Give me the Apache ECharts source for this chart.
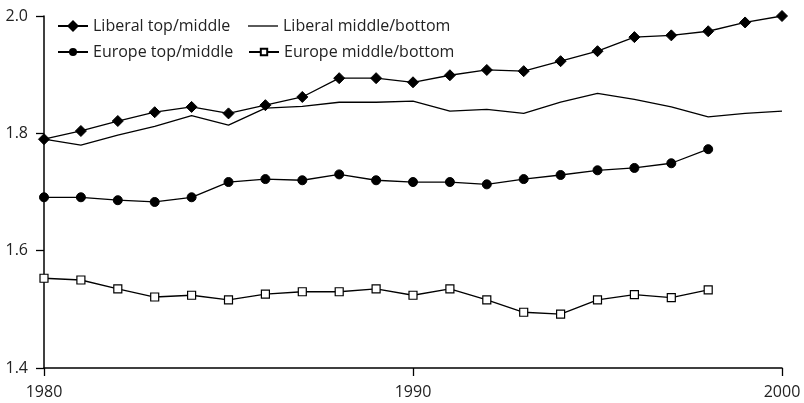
<!DOCTYPE html>
<html>
<head>
<meta charset="utf-8">
<script src="https://cdn.jsdelivr.net/npm/echarts@6/dist/echarts.min.js"></script>
<style>
html,body{margin:0;padding:0;background:#fff;}
#c{width:804px;height:403px;}
</style>
</head>
<body>
<div id="c"></div>
<script>
const years = [1980,1981,1982,1983,1984,1985,1986,1987,1988,1989,1990,1991,1992,1993,1994,1995,1996,1997,1998,1999,2000];
const liberalTopMiddle = [1.790,1.804,1.821,1.836,1.845,1.834,1.848,1.862,1.894,1.894,1.887,1.899,1.908,1.906,1.923,1.940,1.964,1.967,1.974,1.989,2.000];
const liberalMiddleBottom = [1.790,1.780,1.797,1.812,1.830,1.814,1.843,1.846,1.853,1.853,1.855,1.838,1.841,1.834,1.853,1.868,1.858,1.845,1.828,1.834,1.838];
const europeTopMiddle = [1.691,1.691,1.686,1.683,1.691,1.717,1.722,1.720,1.730,1.720,1.717,1.717,1.713,1.722,1.729,1.737,1.741,1.749,1.773];
const europeMiddleBottom = [1.553,1.550,1.535,1.521,1.524,1.516,1.526,1.530,1.530,1.535,1.524,1.535,1.516,1.495,1.492,1.516,1.525,1.520,1.533];
const names = ['Liberal top/middle','Liberal middle/bottom','Europe top/middle','Europe middle/bottom'];
const xTicks = [1980,1990,2000];

const pairs = arr => arr.map((v,i)=>[years[i], v]);
const FONT = '"Open Sans", Lato, sans-serif';
const lineStyle = {color:'#000', width:1.3};
const textStyle = {fontFamily:FONT, fontSize:16, lineHeight:20, color:'#222'};

const chart = echarts.init(document.getElementById('c'), null, {renderer:'canvas'});
const mkLegend = (name, left, top, extra) => Object.assign({
  data:[name], left:left, top:top, orient:'horizontal',
  itemWidth:30, itemHeight:13, itemGap:0, padding:0,
  textStyle:textStyle, selectedMode:false
}, extra || {});
chart.setOption({
  animation:false,
  backgroundColor:'#fff',
  legend:[
    mkLegend(names[0], 57, 16, {itemHeight:15}),
    mkLegend({name:names[1], icon:'rect', itemStyle:{color:'#000'}}, 248, 16, {itemHeight:1.3, itemStyle:{color:'#000', borderWidth:0}}),
    mkLegend(names[2], 57, 42, {itemHeight:10}),
    mkLegend(names[3], 248, 42, {itemHeight:8})
  ],
  grid:{left:44, right:22, top:16, bottom:35, containLabel:false},
  xAxis:{
    type:'value', min:1980, max:2000, interval:10,
    axisLine:{lineStyle:{color:'#000', width:1.5}},
    axisTick:{show:true, length:8, lineStyle:{color:'#000', width:1.3}},
    axisLabel:{fontFamily:FONT, fontSize:16, lineHeight:20, color:'#222', margin:14,
      customValues: xTicks, formatter: v=>String(v)},
    splitLine:{show:false}
  },
  yAxis:{
    type:'value', min:1.4, max:2.0, interval:0.2,
    axisLine:{show:true, lineStyle:{color:'#000', width:1.5}},
    axisTick:{show:true, length:8, lineStyle:{color:'#000', width:1.3}},
    axisLabel:{fontFamily:FONT, fontSize:16, color:'#222', margin:16,
      formatter: v=>v.toFixed(1)},
    splitLine:{show:false}
  },
  series:[
    {name:names[0], type:'line', data:pairs(liberalTopMiddle), symbol:'diamond', symbolSize:11,
     showAllSymbol:true, lineStyle:lineStyle, itemStyle:{color:'#000', borderColor:'#000'}},
    {name:names[1], type:'line', data:pairs(liberalMiddleBottom), symbol:'none',
     lineStyle:lineStyle, itemStyle:{color:'#000'}},
    {name:names[2], type:'line', data:pairs(europeTopMiddle), symbol:'circle', symbolSize:9,
     showAllSymbol:true, lineStyle:lineStyle, itemStyle:{color:'#000', borderColor:'#000'}},
    {name:names[3], type:'line', data:pairs(europeMiddleBottom), symbol:'rect', symbolSize:8,
     showAllSymbol:true, lineStyle:lineStyle, itemStyle:{color:'#fff', borderColor:'#000', borderWidth:1.2}}
  ]
});
</script>
</body>
</html>
